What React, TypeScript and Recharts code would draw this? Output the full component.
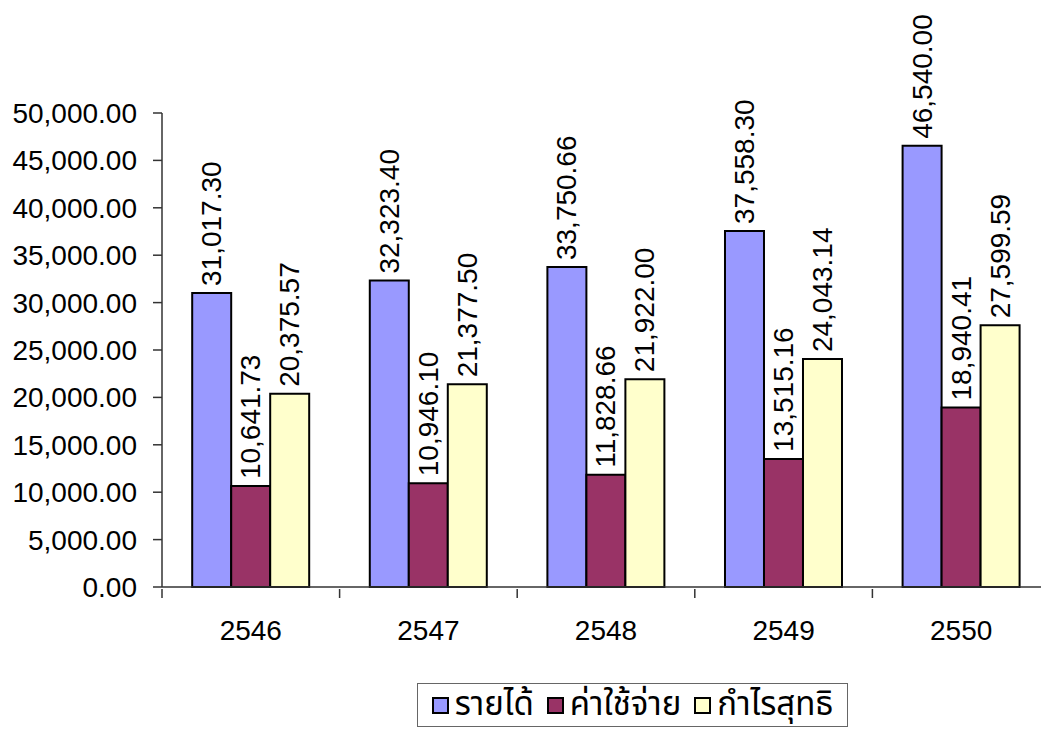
import React from "react";
import { BarChart, Bar, XAxis, YAxis, LabelList } from "recharts";

const years = ["2546", "2547", "2548", "2549", "2550"];
const revenue = [31017.3, 32323.4, 33750.66, 37558.3, 46540.0];
const expense = [10641.73, 10946.1, 11828.66, 13515.16, 18940.41];
const profit = [20375.57, 21377.5, 21922.0, 24043.14, 27599.59];
const yTicks = [0, 5000, 10000, 15000, 20000, 25000, 30000, 35000, 40000, 45000, 50000];

const seriesNames = ["รายได้", "ค่าใช้จ่าย", "กำไรสุทธิ"];
const seriesColors = ["#9999FF", "#993366", "#FFFFCC"];

const data = years.map((y, i) => ({
  year: y,
  revenue: revenue[i],
  expense: expense[i],
  profit: profit[i],
}));

const fmt = (v: number) =>
  v.toLocaleString("en-US", { minimumFractionDigits: 2, maximumFractionDigits: 2 });

const NUM_FONT = "'Liberation Sans', Arial, sans-serif";
const THAI_FONT = "Tahoma, 'Noto Sans Thai', 'Noto Sans', 'DejaVu Sans', sans-serif";
const AXIS = "#333";
const FS = 28;

const W = 1060;
const H = 729;
const X_H = 60;
const M = { top: 113, right: 10, left: 0, bottom: 142 - X_H };
const Y_W = 162;
const BAND = (W - M.left - M.right - Y_W) / years.length;

const VLabel = (props: any) => {
  const { x, y, width, value } = props;
  const cx = x + width / 2;
  const ty = y - 7;
  return (
    <text
      x={cx}
      y={ty}
      transform={`rotate(-90 ${cx} ${ty})`}
      textAnchor="start"
      dominantBaseline="central"
      fontSize={FS}
      fontFamily={NUM_FONT}
      fill="#000"
    >
      {fmt(value)}
    </text>
  );
};

const XTick = (props: any) => {
  const { x, y, payload, index } = props;
  const left = x - BAND / 2;
  return (
    <g>
      <line x1={left} y1={y} x2={left} y2={y + 9} stroke={AXIS} strokeWidth={1.5} />
      {index === years.length - 1 && (
        <line x1={left + BAND} y1={y} x2={left + BAND} y2={y + 9} stroke={AXIS} strokeWidth={1.5} />
      )}
      <text
        x={x}
        y={y + 41}
        textAnchor="middle"
        dominantBaseline="central"
        fontSize={FS}
        fontFamily={NUM_FONT}
        fill="#000"
      >
        {payload.value}
      </text>
    </g>
  );
};

export default function App() {
  return (
    <div
      style={{
        position: "fixed",
        left: 0,
        top: 0,
        width: 1041,
        height: 729,
        overflow: "hidden",
        background: "#fff",
      }}
    >
      <BarChart
        width={W}
        height={H}
        data={data}
        margin={M}
        barCategoryGap="17%"
        barGap={0}
      >
        <YAxis
          width={Y_W}
          domain={[0, 50000]}
          ticks={yTicks}
          tickFormatter={fmt}
          axisLine={{ stroke: AXIS, strokeWidth: 1.5 }}
          tickLine={{ stroke: AXIS, strokeWidth: 1.5 }}
          tickSize={9}
          tickMargin={16}
          tick={{ fontSize: FS, fontFamily: NUM_FONT, fill: "#000" }}
          interval={0}
        />
        <XAxis
          dataKey="year"
          axisLine={{ stroke: AXIS, strokeWidth: 1.5 }}
          tickLine={false}
          tickSize={0}
          tick={<XTick />}
          interval={0}
          height={X_H}
        />
        <Bar dataKey="revenue" fill={seriesColors[0]} stroke="#000" strokeWidth={2} isAnimationActive={false}>
          <LabelList dataKey="revenue" content={<VLabel />} />
        </Bar>
        <Bar dataKey="expense" fill={seriesColors[1]} stroke="#000" strokeWidth={2} isAnimationActive={false}>
          <LabelList dataKey="expense" content={<VLabel />} />
        </Bar>
        <Bar dataKey="profit" fill={seriesColors[2]} stroke="#000" strokeWidth={2} isAnimationActive={false}>
          <LabelList dataKey="profit" content={<VLabel />} />
        </Bar>
      </BarChart>
      <div
        style={{
          position: "absolute",
          left: 417,
          top: 683,
          width: 429,
          height: 42,
          border: "1.5px solid #666",
          display: "flex",
          alignItems: "center",
          justifyContent: "center",
          gap: 13,
          fontFamily: THAI_FONT,
          fontSize: 33,
          lineHeight: 1,
          color: "#000",
          whiteSpace: "nowrap",
        }}
      >
        {seriesNames.map((n, i) => (
          <div key={n} style={{ display: "flex", alignItems: "center", gap: 6 }}>
            <span
              style={{
                display: "inline-block",
                width: 13,
                height: 13,
                background: seriesColors[i],
                border: "2px solid #000",
              }}
            />
            <span>{n}</span>
          </div>
        ))}
      </div>
    </div>
  );
}
